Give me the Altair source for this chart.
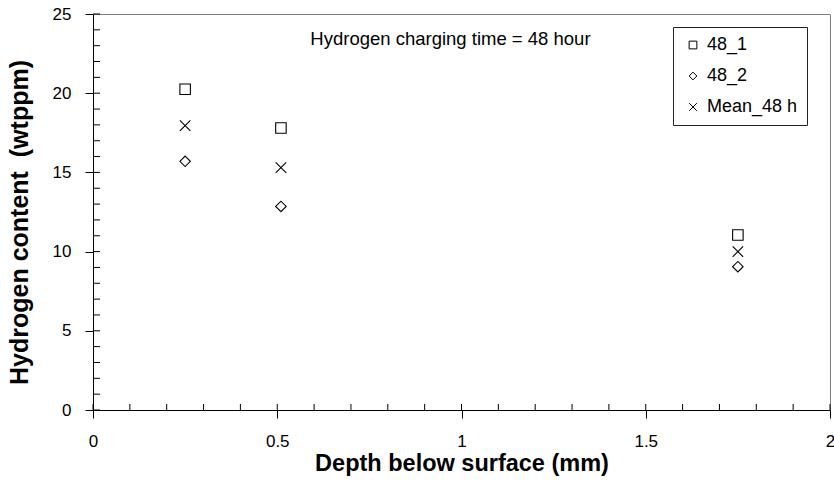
import altair as alt
import pandas as pd

# Measured hydrogen content at three depths, 48 h charging
depth = [0.25, 0.51, 1.75]
h_48_1 = [20.25, 17.8, 11.05]
h_48_2 = [15.7, 12.85, 9.05]
h_mean = [17.95, 15.3, 10.0]
series_names = ["48_1", "48_2", "Mean_48 h"]

# Tick positions
x_major = [0, 0.5, 1, 1.5, 2]
x_minor = [0.0, 0.1, 0.2, 0.3, 0.4, 0.5, 0.6, 0.7, 0.8, 0.9, 1.0,
           1.1, 1.2, 1.3, 1.4, 1.5, 1.6, 1.7, 1.8, 1.9, 2.0]
y_major = [0, 5, 10, 15, 20, 25]
y_minor = [0, 1, 2, 3, 4, 5, 6, 7, 8, 9, 10, 11, 12, 13, 14, 15, 16, 17,
           18, 19, 20, 21, 22, 23, 24, 25]

note_text = ["Hydrogen charging time = 48 hour"]
note_x = [0.97]
note_y = [23.4]

X_PATH = "M-1,-1L1,1M-1,1L1,-1"
FONT = "Liberation Sans"
W, H = 737, 396

rows = []
for name, vals in zip(series_names, [h_48_1, h_48_2, h_mean]):
    for d, v in zip(depth, vals):
        rows.append({"depth": d, "h": v, "series": name})
df = pd.DataFrame(rows)

x_scale = alt.Scale(domain=[0, 2], nice=False, zero=False)
y_scale = alt.Scale(domain=[0, 25], nice=False, zero=False)

# One shared definition per axis so every layer merges into the same axis
x_enc = alt.X("depth:Q", scale=x_scale, axis=alt.Axis(
    values=x_major, format="~g", title="Depth below surface (mm)", grid=False,
    tickSize=8, tickColor="black", domainColor="black",
    labelFont=FONT, labelFontSize=17, labelColor="black", labelPadding=15,
    labelFlush=False, labelOverlap=False,
    titleFont=FONT, titleFontSize=23.5, titleFontWeight="bold", titleColor="black",
    titleY=60, titleBaseline="alphabetic",
))
y_enc = alt.Y("h:Q", scale=y_scale, axis=alt.Axis(
    values=y_major, format="~g", title="Hydrogen content\u00a0 (wtppm)", grid=False,
    tickSize=8, tickColor="black", domainColor="black",
    labelFont=FONT, labelFontSize=17, labelColor="black", labelPadding=14,
    labelFlush=False, labelOverlap=False,
    titleFont=FONT, titleFontSize=25, titleFontWeight="bold", titleColor="black",
    titleAngle=270, titleX=-66, titleY=208, titleAlign="center",
    titleBaseline="alphabetic",
))

points = alt.Chart(df).mark_point(
    filled=False, color="black", strokeWidth=1.1, size=110, opacity=1
).encode(
    x=x_enc,
    y=y_enc,
    shape=alt.Shape("series:N", scale=alt.Scale(
        domain=series_names, range=["square", "diamond", X_PATH]
    ), legend=alt.Legend(
        title=None, orient="none", legendX=580, legendY=13,
        strokeColor="#222222", padding=9, symbolSize=60,
        symbolStrokeColor="black", symbolStrokeWidth=1, symbolFillColor="transparent",
        symbolOffset=2, labelOffset=5, rowPadding=13,
        labelFont=FONT, labelFontSize=18, labelColor="black",
    )),
)

# Inward-pointing ticks along the bottom and left axes
x_in = alt.Chart(pd.DataFrame({"depth": x_minor})).mark_rule(
    color="black", strokeWidth=1
).encode(
    x=x_enc,
    y=alt.value(H - 6), y2=alt.value(H),
)
y_in = alt.Chart(pd.DataFrame({"h": y_minor})).mark_rule(
    color="black", strokeWidth=1
).encode(
    y=y_enc,
    x=alt.value(0), x2=alt.value(7),
)

note = alt.Chart(pd.DataFrame({"depth": note_x, "h": note_y, "t": note_text})).mark_text(
    font=FONT, fontSize=18.5, color="black", align="center", baseline="middle"
).encode(
    x=x_enc,
    y=y_enc,
    text="t:N",
)

chart = alt.layer(points, x_in, y_in, note).properties(
    width=W, height=H,
    autosize=alt.AutoSizeParams(type="none"),
    padding={"left": 93, "top": 14, "right": 4, "bottom": 78},
    background="white",
).configure_view(
    stroke="#808080", strokeWidth=1
)

chart.save("out.html", embed_options={"renderer": "svg", "actions": False})
